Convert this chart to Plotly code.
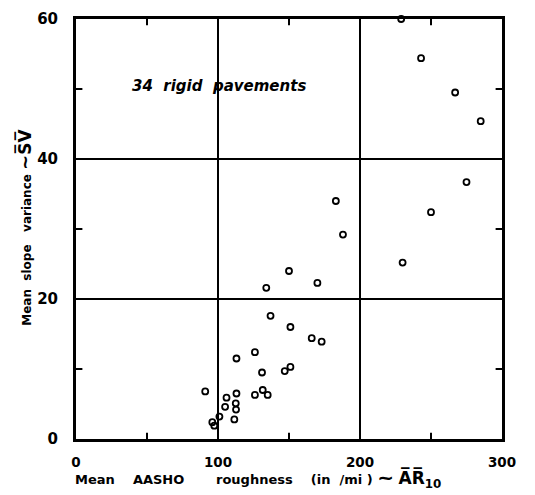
import plotly.graph_objects as go

# Mean AASHO roughness (in/mi) and mean slope variance for 34 rigid pavements
roughness = [229, 243, 267, 285, 275, 250, 230,
             183, 188, 150, 170, 134,
             137, 151, 166, 173, 113, 126, 131, 147, 151,
             91, 113, 126, 131.5, 135, 106, 112.5, 105, 112.7,
             101, 111.5, 96, 97.4]
slope_variance = [60.0, 54.4, 49.5, 45.4, 36.7, 32.4, 25.2,
                  34.0, 29.2, 24.0, 22.3, 21.6,
                  17.6, 16.0, 14.4, 13.9, 11.5, 12.4, 9.5, 9.7, 10.3,
                  6.8, 6.5, 6.3, 7.0, 6.3, 5.9, 5.1, 4.6, 4.2,
                  3.2, 2.8, 2.4, 1.9]

x_ticks = [0, 100, 200, 300]
y_ticks = [0, 20, 40, 60]
x_minor = [50, 150, 250]
y_minor = [10, 30, 50]

X_RANGE = [0, 300]
Y_RANGE = [0, 60]

FONT = "DejaVu Sans"
OL = "\u0305"  # combining overline
SP = "\u00a0"

fig = go.Figure()

# half-interval tick marks pointing inward on all four sides,
# drawn as short segments in data units (about 6 px long)
tx_len = 0.015 * (X_RANGE[1] - X_RANGE[0])
ty_len = 0.015 * (Y_RANGE[1] - Y_RANGE[0])
tick_x, tick_y = [], []
for xv in x_minor:
    tick_x += [xv, xv, None, xv, xv, None]
    tick_y += [Y_RANGE[0], Y_RANGE[0] + ty_len, None,
               Y_RANGE[1], Y_RANGE[1] - ty_len, None]
for yv in y_minor:
    tick_x += [X_RANGE[0], X_RANGE[0] + tx_len, None,
               X_RANGE[1], X_RANGE[1] - tx_len, None]
    tick_y += [yv, yv, None, yv, yv, None]
fig.add_trace(go.Scatter(
    x=tick_x, y=tick_y, mode="lines", line=dict(color="black", width=2),
    showlegend=False, hoverinfo="skip", cliponaxis=False,
))

fig.add_trace(go.Scatter(
    x=roughness, y=slope_variance, mode="markers",
    marker=dict(symbol="circle-open", size=6, color="black",
                line=dict(width=1.8, color="black")),
    cliponaxis=False, showlegend=False,
))

axis_common = dict(
    showline=True, linewidth=3, linecolor="black", mirror=True,
    showgrid=True, gridcolor="black", gridwidth=2,
    zeroline=False, ticks="",
)

fig.update_xaxes(range=X_RANGE, tickvals=x_ticks,
                 ticktext=[str(v) for v in x_ticks], ticklabelstandoff=9,
                 tickfont=dict(family=FONT, size=13.5, color="black", weight="bold"),
                 **axis_common)
fig.update_yaxes(range=Y_RANGE, tickvals=y_ticks,
                 ticktext=[str(v) for v in y_ticks], ticklabelstandoff=12,
                 tickfont=dict(family=FONT, size=15, color="black", weight="bold"),
                 **axis_common)

fig.add_annotation(
    x=100.7, y=50.5, xref="x", yref="y", showarrow=False,
    text="<i>34" + SP * 2 + "rigid" + SP * 2 + "pavements</i>",
    font=dict(family=FONT, size=15, color="black", weight="bold"),
)
fig.add_annotation(
    x=-0.007, y=-0.092, xref="paper", yref="paper", showarrow=False,
    xanchor="left", yanchor="middle",
    text="Mean" + SP * 4 + "AASHO" + SP * 7 + "roughness" + SP * 4
         + "(in" + SP * 2 + "/mi" + SP + ")" + SP
         + "<span style='font-size:20px'>~</span>" + SP
         + "<span style='font-size:17px'>A" + OL + "R" + OL + "<sub>10</sub></span>",
    font=dict(family=FONT, size=13, color="black", weight="bold"),
)
fig.add_annotation(
    x=-0.12, y=0.505, xref="paper", yref="paper", showarrow=False,
    textangle=-90, xanchor="center", yanchor="middle",
    text="Mean" + SP * 2 + "slope" + SP * 3 + "variance" + SP
         + "<span style='font-size:18px'>~</span>"
         + "<span style='font-size:17px'>S" + OL + "V" + OL + "</span>",
    font=dict(family=FONT, size=12, color="black", weight="bold"),
)

fig.update_layout(
    width=535, height=495,
    margin=dict(l=76, r=33, t=10, b=56),
    paper_bgcolor="white", plot_bgcolor="white",
)

fig.write_html("out.html")
